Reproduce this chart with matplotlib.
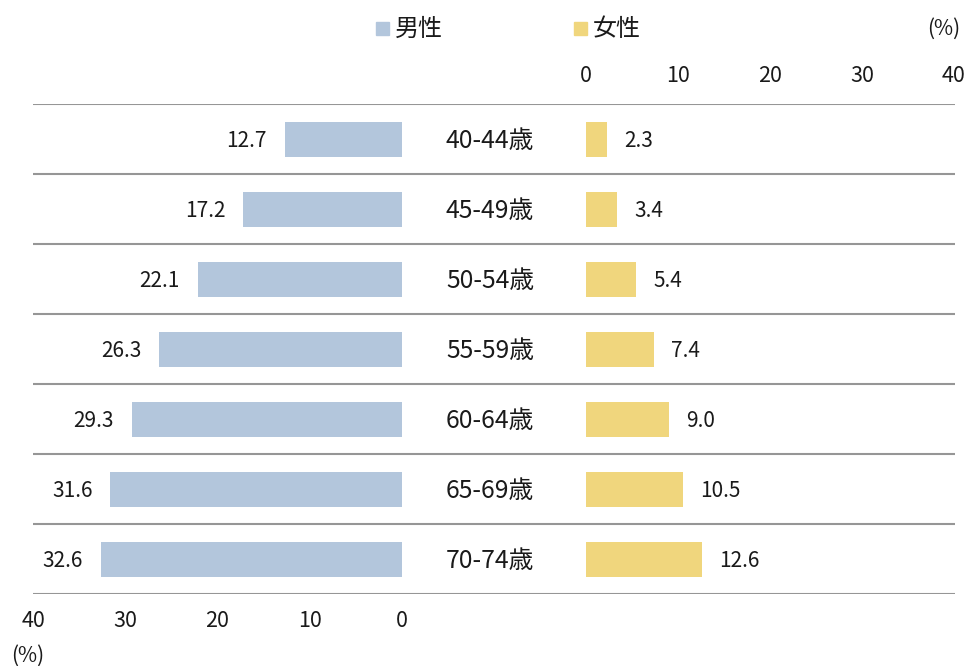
import matplotlib
matplotlib.use("Agg")
import matplotlib.pyplot as plt
import matplotlib.transforms as mtransforms
import numpy as np

plt.rcParams['font.family'] = ['Noto Sans CJK JP', 'DejaVu Sans']

categories = ["40-44歳", "45-49歳", "50-54歳", "55-59歳", "60-64歳", "65-69歳", "70-74歳"]
male = [12.7, 17.2, 22.1, 26.3, 29.3, 31.6, 32.6]
female = [2.3, 3.4, 5.4, 7.4, 9.0, 10.5, 12.6]
ticks = [0, 10, 20, 30, 40]
legend_labels = ["男性", "女性"]

c_male = "#B3C6DC"
c_female = "#F0D67D"
c_line = "#969696"
c_text = "#1a1a1a"

W, H = 968, 666
fig = plt.figure(figsize=(W / 100, H / 100), dpi=100)

def rect(x0, y0, x1, y1):
    return [x0 / W, 1 - y1 / H, (x1 - x0) / W, (y1 - y0) / H]

n = len(categories)
y = np.arange(n)

# background axes for separator lines
ax_bg = fig.add_axes(rect(33, 104, 955, 594))
ax_bg.set_xlim(0, 1)
ax_bg.set_ylim(n - 0.5, -0.5)
ax_bg.hlines(np.arange(n + 1) - 0.5, 0, 1, color=c_line, lw=1.5)
ax_bg.axis("off")
ax_bg.patch.set_alpha(0)

ax_l = fig.add_axes(rect(33, 104, 402, 594))
ax_r = fig.add_axes(rect(586, 104, 954, 594))
for ax in (ax_l, ax_r):
    ax.patch.set_alpha(0)
    for s in ax.spines.values():
        s.set_visible(False)
    ax.set_ylim(n - 0.5, -0.5)
    ax.set_yticks([])
    ax.set_xticks(ticks)
    ax.tick_params(axis="x", length=0, labelsize=15.5, colors=c_text)

ax_l.set_xlim(40, 0)
ax_l.tick_params(axis="x", pad=11.5)
ax_r.set_xlim(0, 40)
ax_r.xaxis.tick_top()
ax_r.tick_params(axis="x", pad=12)

ax_l.barh(y, male, height=0.5, color=c_male)
ax_r.barh(y, female, height=0.5, color=c_female)

for yi, v in zip(y, male):
    ax_l.annotate(f"{v:.1f}", (v, yi), xytext=(-13, -1.5), textcoords="offset points",
                  ha="right", va="center", fontsize=15, color=c_text)
for yi, v in zip(y, female):
    ax_r.annotate(f"{v:.1f}", (v, yi), xytext=(12.5, -1.5), textcoords="offset points",
                  ha="left", va="center", fontsize=15, color=c_text)

for yi, c in zip(y, categories):
    ax_l.annotate(c, xy=(490 / W, yi), xycoords=("figure fraction", "data"),
                  xytext=(0, -1.5), textcoords="offset points",
                  ha="center", va="center", fontsize=17.8, color=c_text)

# legend
for (sx, tx, col, lab) in [(376, 395, c_male, legend_labels[0]), (574, 593, c_female, legend_labels[1])]:
    fig.patches.append(plt.Rectangle((sx / W, 1 - 35 / H), 13 / W, 13 / H,
                                     transform=fig.transFigure, color=col))
    fig.text(tx / W, 1 - 28.5 / H, lab, ha="left", va="center", fontsize=17.3, color=c_text)

fig.text(944 / W, 1 - 28.5 / H, "(%)", ha="center", va="center", fontsize=15, color=c_text)
fig.text(28 / W, 1 - 656 / H, "(%)", ha="center", va="center", fontsize=15, color=c_text)

fig.savefig("out.png", dpi=100)
